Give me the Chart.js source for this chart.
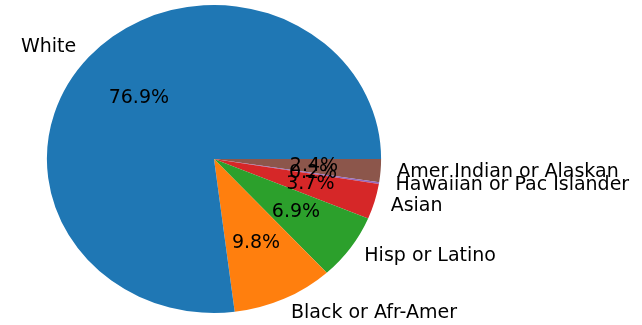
<!DOCTYPE html>
<html>
<head>
<meta charset="utf-8">
<script src="https://cdn.jsdelivr.net/npm/chart.js@4.4.0/dist/chart.umd.min.js"></script>
<style>
  html, body { margin: 0; padding: 0; background: #fff; }
  #wrap { width: 642px; height: 325px; }
</style>
</head>
<body>
<div id="wrap"><canvas id="pie" width="642" height="325"></canvas></div>
<script>
// Slices in matplotlib order (counter-clockwise from 3 o'clock)
const categories = ['White', 'Black or Afr-Amer', 'Hisp or Latino', 'Asian', 'Hawaiian or Pac Islander', 'Amer Indian or Alaskan'];
const shares = [76.9, 9.8, 6.9, 3.7, 0.2, 2.4];
const colors = ['#1f77b4', '#ff7f0e', '#2ca02c', '#d62728', '#9467bd', '#8c564b'];

const STRETCH_X = 1.085;  // reference pie is a bit wider than tall
const FONT = '19px "DejaVu Sans", sans-serif';

// Chart.js draws clockwise, so feed the slices reversed to get the CCW look
const n = categories.length;
const rev = arr => arr.slice().reverse();

const piePlugin = {
    id: 'mplPie',
    beforeDatasetsDraw(chart) {
        const ctx = chart.ctx;
        const a = chart.chartArea;
        const cx = (a.left + a.right) / 2;
        ctx.save();
        ctx.translate(cx, 0);
        ctx.scale(STRETCH_X, 1);
        ctx.translate(-cx, 0);
    },
    afterDatasetsDraw(chart) {
        const ctx = chart.ctx;
        ctx.restore();

        const arcs = chart.getDatasetMeta(0).data;
        ctx.save();
        ctx.font = FONT;
        ctx.fillStyle = '#000';
        ctx.textBaseline = 'middle';
        // draw in the original order so overlaps stack like the reference
        for (let k = 0; k < n; k++) {
            const el = arcs[n - 1 - k];
            const p = el.getProps(['x', 'y', 'startAngle', 'endAngle', 'outerRadius'], true);
            const mid = (p.startAngle + p.endAngle) / 2;
            const c = Math.cos(mid), s = Math.sin(mid);

            // category label at 1.1 r
            const lx = p.x + STRETCH_X * 1.1 * p.outerRadius * c;
            const ly = p.y + 1.1 * p.outerRadius * s;
            ctx.textAlign = c > 0 ? 'left' : 'right';
            ctx.fillText(categories[k], lx, ly);

            // percentage at 0.6 r
            const px = p.x + STRETCH_X * 0.6 * p.outerRadius * c;
            const py = p.y + 0.6 * p.outerRadius * s;
            ctx.textAlign = 'center';
            ctx.fillText(shares[k].toFixed(1) + '%', px, py);
        }
        ctx.restore();
    }
};

new Chart(document.getElementById('pie'), {
    type: 'pie',
    data: {
        labels: rev(categories),
        datasets: [{
            data: rev(shares),
            backgroundColor: rev(colors),
            borderWidth: 0
        }]
    },
    options: {
        responsive: false,
        animation: false,
        rotation: 90,
        layout: { padding: { left: 60, right: 274, top: 5, bottom: 12 } },
        plugins: {
            legend: { display: false },
            tooltip: { enabled: false }
        }
    },
    plugins: [piePlugin]
});
</script>
</body>
</html>
